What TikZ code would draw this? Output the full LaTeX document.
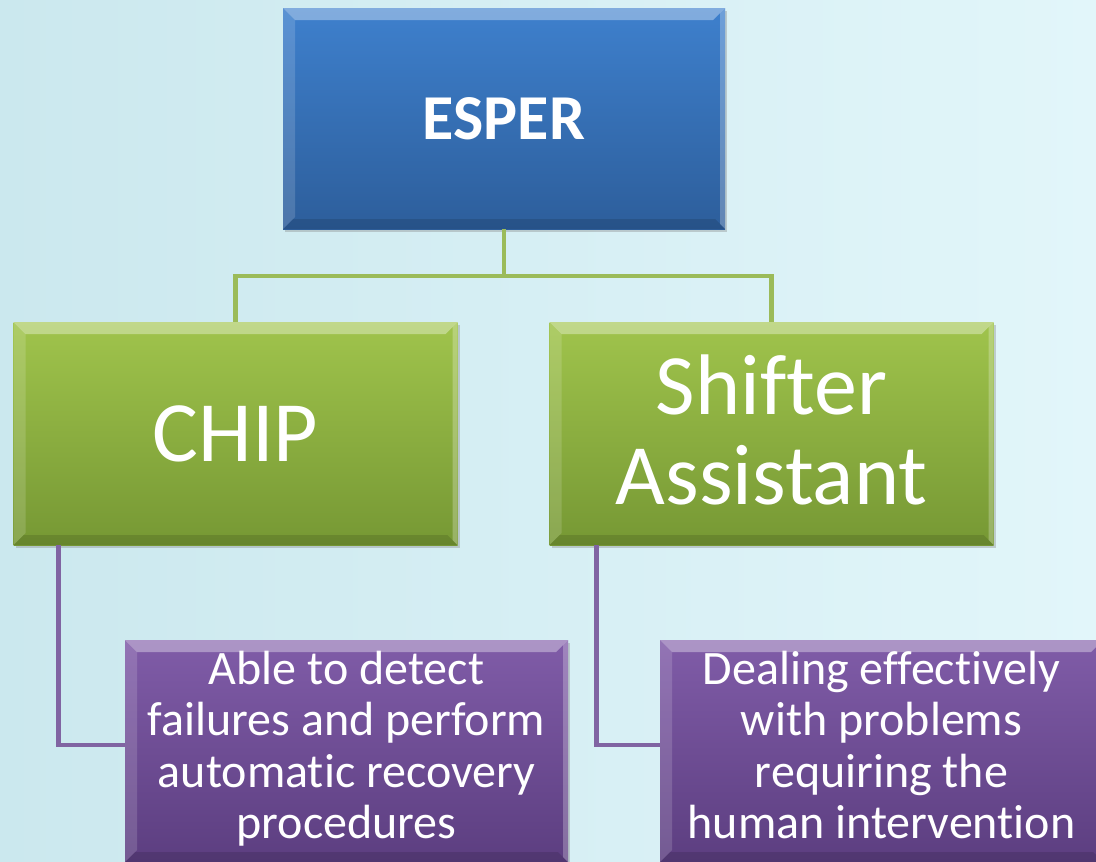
\documentclass[tikz,border=0pt]{standalone}
\usepackage{fontspec}
\setmainfont{Carlito}[Ligatures={NoCommon}]
\usetikzlibrary{calc,shadows}

\definecolor{bgleft}{RGB}{203,232,238}
\definecolor{bgright}{RGB}{226,246,250}
\definecolor{bluetop}{RGB}{62,128,205}
\definecolor{bluebot}{RGB}{45,94,155}
\definecolor{greentop}{RGB}{160,196,76}
\definecolor{greenbot}{RGB}{118,152,52}
\definecolor{purptop}{RGB}{128,92,168}
\definecolor{purpbot}{RGB}{92,62,128}
\definecolor{greenline}{RGB}{155,187,89}
\definecolor{purpline}{RGB}{128,100,162}

\tikzset{
  card/.style={rectangle, inner sep=0pt, outer sep=0pt, text=white, align=center,
    drop shadow={shadow xshift=2pt, shadow yshift=-3pt, opacity=0.35}},
  bluecard/.style={card, top color=bluetop, bottom color=bluebot,
    minimum width=442pt, minimum height=221pt,
    font=\fontsize{64}{70}\selectfont\bfseries},
  greencard/.style={card, top color=greentop, bottom color=greenbot,
    minimum width=444pt, minimum height=223pt,
    font=\fontsize{86}{90}\selectfont},
  purpcard/.style={card, top color=purptop, bottom color=purpbot,
    minimum width=443pt, minimum height=222pt,
    font=\fontsize{48}{51.5}\selectfont},
  greenwire/.style={draw=greenline, line width=4.5pt},
  purpwire/.style={draw=purpline, line width=4.5pt},
}

% stacked centred lines, nudged vertically by #1 without changing the box size
\newcommand\stacklines[2]{\raisebox{#1}[\height][\depth]{\begin{tabular}{@{}c@{}}#2\end{tabular}}}

% bevelled rim drawn over a card node: #1 = node name
\newcommand\bevelrim[1]{%
  \fill[white, opacity=0.35] (#1.north west) -- (#1.north east)
    -- ($(#1.north east)+(-12,12)$) -- ($(#1.north west)+(12,12)$) -- cycle;
  \fill[white, opacity=0.15] (#1.north west) -- ($(#1.north west)+(12,12)$)
    -- ($(#1.south west)+(12,-12)$) -- (#1.south west) -- cycle;
  \fill[white, opacity=0.25] (#1.north east) -- (#1.south east)
    -- ($(#1.south east)+(-5,-5)$) -- ($(#1.north east)+(-5,5)$) -- cycle;
  \fill[black, opacity=0.12] (#1.south west) -- (#1.south east)
    -- ($(#1.south east)+(-10,-10)$) -- ($(#1.south west)+(10,-10)$) -- cycle;
}

\begin{document}
\begin{tikzpicture}[x=1pt, y=-1pt]
  \useasboundingbox (0,0) rectangle (1096,862);
  \clip (0,0) rectangle (1096,862);
  \shade[left color=bgleft, right color=bgright] (0,0) rectangle (1096,862);

  % boxes
  \node[bluecard] (esper) at (504,118.5) {ESPER};
  \node[greencard] (chip) at (235.5,433.5) {CHIP};
  \node[greencard] (shifter) at (771.5,433.5) {\stacklines{-8pt}{Shifter\\Assistant}};
  \node[purpcard] (detect) at (346.5,751)
    {\stacklines{0pt}{Able to detect\\failures and perform\\automatic recovery\\procedures}};
  \node[purpcard] (human) at (881.5,751)
    {\stacklines{0pt}{Dealing effectively\\with problems\\requiring the\\human intervention}};

  \bevelrim{esper}
  \bevelrim{chip}
  \bevelrim{shifter}
  \bevelrim{detect}
  \bevelrim{human}

  % connectors
  \coordinate (bus) at ($(esper.south)+(0,47)$);
  \draw[greenwire] (esper.south) -- (bus) -| (chip.north);
  \draw[greenwire] (bus) -| (shifter.north);
  \draw[purpwire] ($(chip.south west)+(45,0)$) |- ($(detect.north west)+(0,105)$);
  \draw[purpwire] ($(shifter.south west)+(47,0)$) |- ($(human.north west)+(0,105)$);
\end{tikzpicture}
\end{document}
